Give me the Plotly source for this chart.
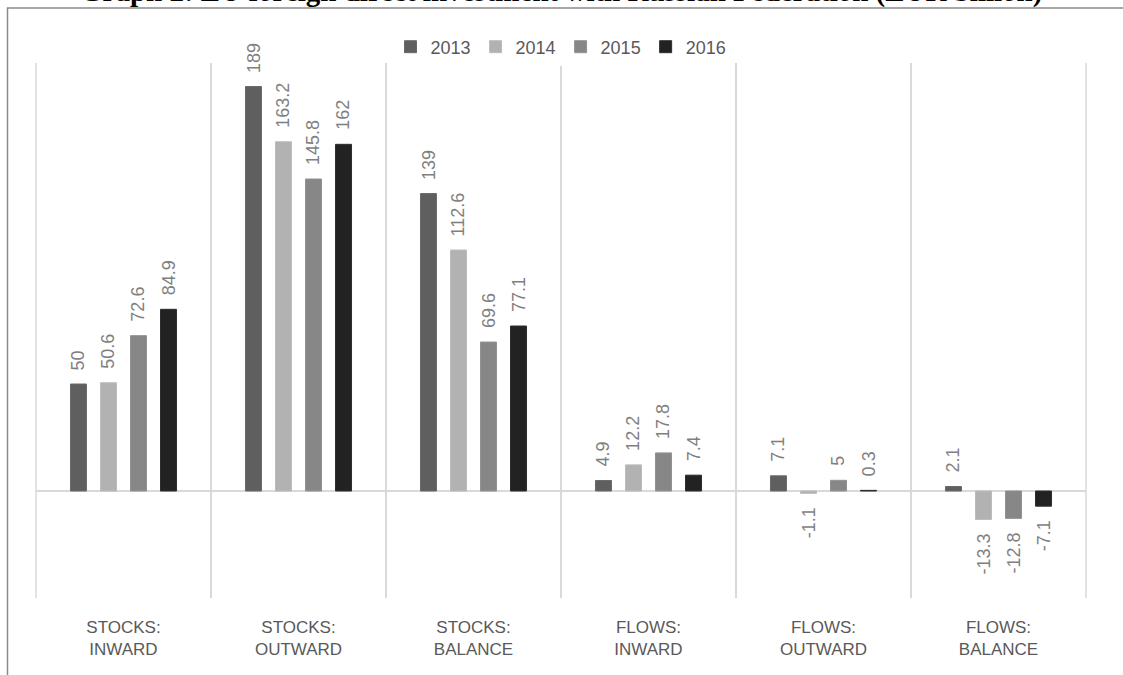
import plotly.graph_objects as go

# EU foreign direct investment with the Russian Federation, EUR billion
categories = [
    "STOCKS:<br>INWARD",
    "STOCKS:<br>OUTWARD",
    "STOCKS:<br>BALANCE",
    "FLOWS:<br>INWARD",
    "FLOWS:<br>OUTWARD",
    "FLOWS:<br>BALANCE",
]
years = ["2013", "2014", "2015", "2016"]
values_2013 = [50, 189, 139, 4.9, 7.1, 2.1]
values_2014 = [50.6, 163.2, 112.6, 12.2, -1.1, -13.3]
values_2015 = [72.6, 145.8, 69.6, 17.8, 5, -12.8]
values_2016 = [84.9, 162, 77.1, 7.4, 0.3, -7.1]
series = [values_2013, values_2014, values_2015, values_2016]
colors = ["#5f5f5f", "#b2b2b2", "#878787", "#222222"]
edge_colors = ["#6a6a6a", "#bcbcbc", "#929292", "#2e2e2e"]

W, H = 1123, 675
M_L, M_R, M_T, M_B = 36, 37, 63, 77
Y_RANGE = [-50, 200]
BARGAP = 0.314
BARGROUPGAP = 0.467

plot_w = W - M_L - M_R
plot_h = H - M_T - M_B
cat_w = plot_w / len(categories)
slot_w = cat_w * (1 - BARGAP) / len(years)


def paper_y(px_from_top):
    """Convert a pixel row (from the top of the page) to paper y."""
    return (H - M_B - px_from_top) / plot_h


def paper_x(px_from_left):
    return (px_from_left - M_L) / plot_w


label_font = dict(family="Liberation Sans, Arial, sans-serif", size=18, color="#7f7f7f")

fig = go.Figure()
for name, vals, c, ec in zip(years, series, colors, edge_colors):
    fig.add_trace(go.Bar(
        name=name, x=categories, y=vals,
        marker=dict(color=c, line=dict(color=ec, width=1)),
    ))

# rotated value labels, offset to sit over each bar of the group
annotations = []
for i, vals in enumerate(series):
    dx = (i - (len(years) - 1) / 2) * slot_w
    for cat, v in zip(categories, vals):
        annotations.append(dict(
            x=cat, y=v, xref="x", yref="y",
            text=f"{v:g}", textangle=-90, showarrow=False,
            xanchor="center", yanchor="bottom" if v >= 0 else "top",
            xshift=dx, yshift=12 if v >= 0 else -12,
            font=label_font,
        ))

# chart title (sits above the frame, partly beyond the page top)
annotations.append(dict(
    x=0.5, y=paper_y(10), xref="paper", yref="paper",
    xanchor="center", yanchor="bottom", showarrow=False,
    text="<b>Graph 2: EU foreign direct investment with Russian Federation (EUR billion)</b>",
    font=dict(family="Liberation Serif, Times New Roman, serif", size=29, color="#000000"),
))

# outer frame line around the chart
frame = dict(
    type="rect", xref="paper", yref="paper",
    x0=paper_x(7.5), x1=paper_x(W + 10),
    y0=paper_y(H + 10), y1=paper_y(8),
    line=dict(color="#8a8a8a", width=1.5), layer="above",
)
# category boundary lines at both outer edges of the plot
edge_lines = [
    dict(type="line", xref="paper", yref="paper", x0=xe, x1=xe, y0=0, y1=1,
         line=dict(color="#d9d9d9", width=1.5), layer="below")
    for xe in (0, 1)
]

fig.update_layout(
    width=W, height=H,
    margin=dict(l=M_L, r=M_R, t=M_T, b=M_B, pad=0),
    paper_bgcolor="white", plot_bgcolor="white",
    barmode="group", bargap=BARGAP, bargroupgap=BARGROUPGAP,
    showlegend=True,
    legend=dict(
        orientation="h", x=0.5, xanchor="center",
        y=paper_y(47), yanchor="middle",
        font=dict(family="Liberation Sans, Arial, sans-serif", size=18, color="#595959"),
        itemwidth=30, traceorder="normal",
    ),
    annotations=annotations,
    shapes=[frame] + edge_lines,
    xaxis=dict(
        type="category", tickson="boundaries", showgrid=True,
        gridcolor="#d9d9d9", gridwidth=1.5, ticks="", showline=False,
        tickfont=dict(family="Liberation Sans, Arial, sans-serif", size=17, color="#595959"),
        ticklabelstandoff=17,
    ),
    yaxis=dict(
        range=Y_RANGE, showgrid=False, showticklabels=False,
        zeroline=True, zerolinecolor="#d9d9d9", zerolinewidth=2,
        ticks="", showline=False,
    ),
)

fig.write_html("out.html")
